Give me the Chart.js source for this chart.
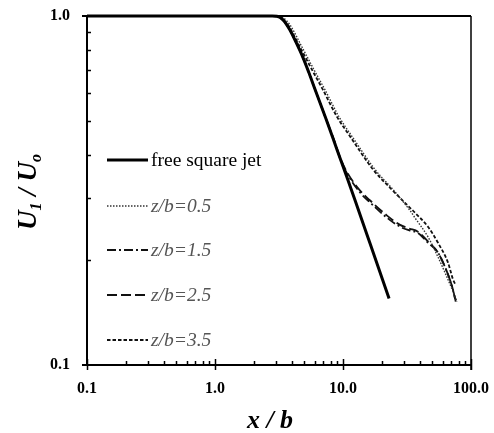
<!DOCTYPE html>
<html>
<head>
<meta charset="utf-8">
<script src="https://cdn.jsdelivr.net/npm/chart.js@4"></script>
<style>
  html, body { margin: 0; padding: 0; background: #fff; }
</style>
</head>
<body>
<canvas id="myChart" width="494" height="433"></canvas>
<script>
// centreline velocity decay, U1/Uo against x/b (log-log)
const freeJetX = [0.1, 1, 2, 2.8, 3.05, 3.4, 3.85, 4.3, 4.87, 5.4, 6.04, 7.36, 8.98, 10.7, 12.4, 16.3, 22.9];
const freeJetY = [1, 1, 1, 1, 0.998, 0.975, 0.912, 0.84, 0.76, 0.69, 0.617, 0.508, 0.414, 0.346, 0.297, 0.2225, 0.155];

const z05X = [0.1, 1, 2, 3.1, 3.45, 3.86, 4.78, 5.94, 7.24, 9.31, 11.7, 17.8, 25, 33.4, 36.5, 46.1, 55.2, 62.6, 71.1, 77.8];
const z05Y = [1, 1, 1, 1, 0.985, 0.942, 0.815, 0.701, 0.614, 0.514, 0.453, 0.363, 0.316, 0.277, 0.264, 0.233, 0.204, 0.184, 0.165, 0.152];

const z15X = [0.1, 1, 2, 2.8, 3.05, 3.4, 3.85, 4.3, 4.87, 5.4, 6.04, 7.36, 8.5, 9.5, 10.7, 13.6, 16.3, 22.1, 27.9, 33, 38.5, 46.1, 55.2, 62.6, 71.1, 76];
const z15Y = [1, 1, 1, 1, 0.998, 0.975, 0.912, 0.84, 0.76, 0.69, 0.617, 0.508, 0.44, 0.39, 0.355, 0.312, 0.292, 0.264, 0.249, 0.243, 0.239, 0.224, 0.21, 0.191, 0.168, 0.152];

const z25X = [0.1, 1, 2, 2.8, 3.05, 3.4, 3.85, 4.3, 4.87, 5.4, 6.04, 7.36, 8.5, 9.5, 10.7, 13.6, 16.3, 22.1, 27.9, 33, 38.5, 46.1, 55.2, 62.6, 71.1, 76];
const z25Y = [1, 1, 1, 1, 0.998, 0.975, 0.912, 0.84, 0.76, 0.69, 0.617, 0.508, 0.442, 0.393, 0.358, 0.316, 0.296, 0.268, 0.252, 0.246, 0.241, 0.226, 0.21, 0.191, 0.168, 0.152];

const z35X = [0.1, 1, 2, 3.0, 3.3, 3.72, 4.61, 5.73, 6.98, 8.98, 11.3, 17.2, 24.1, 33.4, 36.5, 46.1, 55.2, 66.1, 72.3, 75];
const z35Y = [1, 1, 1, 1, 0.985, 0.942, 0.815, 0.701, 0.614, 0.514, 0.453, 0.363, 0.318, 0.282, 0.273, 0.249, 0.224, 0.1965, 0.176, 0.171];

const seriesLabels = ['free square jet', 'z/b=0.5', 'z/b=1.5', 'z/b=2.5', 'z/b=3.5'];

const xTickValues = [0.1, 1, 10, 100];
const xTickLabels = ['0.1', '1.0', '10.0', '100.0'];
const yTickValues = [0.1, 1];
const yTickLabels = ['0.1', '1.0'];

const SERIF = "'Liberation Serif', 'DejaVu Serif', serif";

function pts(xs, ys) {
  return xs.map((x, i) => ({ x: x, y: ys[i] }));
}

// 1..9 x 10^n between the major ticks
function logTicks(majors) {
  const out = [];
  for (let i = 0; i < majors.length - 1; i++) {
    for (let m = 1; m < 10; m++) out.push({ value: +(majors[i] * m).toPrecision(3) });
  }
  out.push({ value: majors[majors.length - 1] });
  return out;
}

const styles = [
  { color: '#000', width: 3, dash: [] },
  { color: '#333', width: 1.4, dash: [1.5, 1.5] },
  { color: '#111', width: 1.8, dash: [9, 3, 2, 3] },
  { color: '#111', width: 1.8, dash: [10, 4] },
  { color: '#111', width: 1.8, dash: [3.5, 2] },
];

const seriesData = [pts(freeJetX, freeJetY), pts(z05X, z05Y), pts(z15X, z15Y), pts(z25X, z25Y), pts(z35X, z35Y)];

const datasets = seriesData.map((d, i) => ({
  label: seriesLabels[i],
  data: d,
  borderColor: styles[i].color,
  borderWidth: styles[i].width,
  borderDash: styles[i].dash,
  pointRadius: 0,
  fill: false,
  cubicInterpolationMode: 'monotone',
  clip: false,
}));

// frame, inward ticks, legend and axis titles
const decorations = {
  id: 'decorations',
  afterDraw(chart) {
    const { ctx, chartArea: a, scales } = chart;
    ctx.save();
    ctx.strokeStyle = '#000';
    ctx.setLineDash([]);

    // box
    ctx.lineWidth = 2;
    ctx.beginPath();
    ctx.moveTo(a.left - 5, a.top); ctx.lineTo(a.right, a.top);
    ctx.moveTo(a.left, a.top); ctx.lineTo(a.left, a.bottom);
    ctx.moveTo(a.left - 5, a.bottom); ctx.lineTo(a.right, a.bottom);
    ctx.stroke();
    ctx.lineWidth = 1.5;
    ctx.beginPath();
    ctx.moveTo(a.right, a.top); ctx.lineTo(a.right, a.bottom + 5);
    ctx.stroke();

    // ticks
    ctx.lineWidth = 1.5;
    ctx.beginPath();
    scales.x.ticks.forEach(t => {
      const px = Math.round(scales.x.getPixelForValue(t.value)) + 0.5;
      const major = xTickValues.includes(t.value);
      ctx.moveTo(px, a.bottom + (major ? 5 : 0));
      ctx.lineTo(px, a.bottom - (major ? 6 : 4));
    });
    scales.y.ticks.forEach(t => {
      const py = Math.round(scales.y.getPixelForValue(t.value)) + 0.5;
      if (yTickValues.includes(t.value)) return;
      ctx.moveTo(a.left, py);
      ctx.lineTo(a.left + 4, py);
    });
    ctx.stroke();

    // legend
    const rows = [160, 206, 250, 295, 340];
    chart.data.datasets.forEach((ds, i) => {
      ctx.strokeStyle = ds.borderColor;
      ctx.lineWidth = ds.borderWidth;
      ctx.setLineDash(ds.borderDash);
      ctx.beginPath();
      ctx.moveTo(107, rows[i]);
      ctx.lineTo(148, rows[i]);
      ctx.stroke();
      ctx.setLineDash([]);
      ctx.textBaseline = 'middle';
      ctx.textAlign = 'left';
      if (i === 0) {
        ctx.fillStyle = '#000';
        ctx.font = '19.5px ' + SERIF;
      } else {
        ctx.fillStyle = '#555';
        ctx.font = 'italic 19.5px ' + SERIF;
      }
      ctx.fillText(ds.label, 151, rows[i] + 1);
    });

    // x title
    ctx.fillStyle = '#000';
    ctx.textAlign = 'center';
    ctx.textBaseline = 'alphabetic';
    ctx.font = 'italic bold 26px ' + SERIF;
    ctx.fillText('x / b', 270, 428);

    // y title with subscripts
    const big = 'italic bold 27px ' + SERIF;
    const small = 'italic bold 16px ' + SERIF;
    const parts = [['U', big, 0], ['1', small, 5], [' / U', big, 0], ['o', small, 5]];
    let total = 0;
    parts.forEach(p => { ctx.font = p[1]; total += ctx.measureText(p[0]).width; });
    ctx.translate(36, 192);
    ctx.rotate(-Math.PI / 2);
    ctx.textAlign = 'left';
    let cx = -total / 2;
    parts.forEach(p => {
      ctx.font = p[1];
      ctx.fillText(p[0], cx, p[2]);
      cx += ctx.measureText(p[0]).width;
    });
    ctx.restore();
  }
};

const chartConfig = {
  type: 'line',
  data: { datasets },
  options: {
    responsive: false,
    animation: false,
    layout: { padding: { top: 16, right: 23, left: 0, bottom: 0 } },
    plugins: {
      legend: { display: false },
      tooltip: { enabled: false },
    },
    scales: {
      x: {
        type: 'logarithmic',
        min: 0.1,
        max: 100,
        grid: { display: false, drawTicks: false },
        border: { display: false },
        afterBuildTicks: (scale) => { scale.ticks = logTicks(xTickValues); },
        afterFit: (scale) => {
          scale.height = 68;
          scale.paddingLeft = 0;
          scale.paddingRight = 0;
        },
        ticks: {
          autoSkip: false,
          maxRotation: 0,
          padding: 14,
          color: '#000',
          font: { family: SERIF, size: 16, weight: 'bold' },
          callback: (v) => {
            const k = xTickValues.indexOf(v);
            return k >= 0 ? xTickLabels[k] : '';
          },
        },
      },
      y: {
        type: 'logarithmic',
        min: 0.1,
        max: 1,
        grid: { display: false, drawTicks: false },
        border: { display: false },
        afterBuildTicks: (scale) => { scale.ticks = logTicks(yTickValues); },
        afterFit: (scale) => {
          scale.width = 87;
          scale.paddingTop = 0;
          scale.paddingBottom = 0;
        },
        ticks: {
          autoSkip: false,
          padding: 17,
          color: '#000',
          font: { family: SERIF, size: 16, weight: 'bold' },
          callback: (v) => {
            const k = yTickValues.indexOf(v);
            return k >= 0 ? yTickLabels[k] : '';
          },
        },
      },
    },
  },
  plugins: [decorations],
};

new Chart(document.getElementById('myChart').getContext('2d'), chartConfig);
</script>
</body>
</html>
